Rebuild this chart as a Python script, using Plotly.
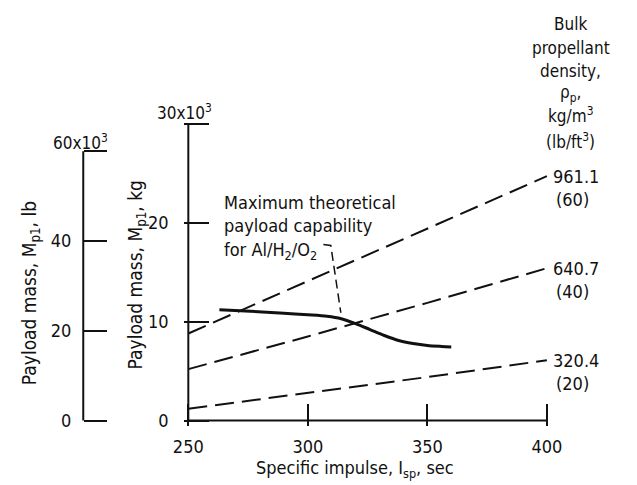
import plotly.graph_objects as go

# ---------------- data ----------------
isp_ticks = [250, 300, 350, 400]
kg_ticks = [0, 10, 20, 30]
lb_ticks = [0, 20, 40, 60]
KG_TO_LB = 2.20462

isp_dens = [250, 300, 350, 400]
kg_961 = [8.8, 14.1, 19.4, 24.7]
kg_640 = [5.2, 8.5, 11.9, 15.4]
kg_320 = [1.2, 2.8, 4.4, 6.1]
dens_kg_labels = ["961.1", "640.7", "320.4"]
dens_lb_labels = ["(60)", "(40)", "(20)"]

isp_max = [263, 276, 290, 300, 308, 314, 320, 326, 332, 338, 344, 350, 356, 360]
kg_max = [11.2, 11.05, 10.85, 10.7, 10.55, 10.3, 9.8, 9.2, 8.6, 8.1, 7.8, 7.6, 7.5, 7.45]

isp_leader = [306.5, 309.6, 313.8]
kg_leader = [17.8, 17.7, 10.9]

header_lines = ["Bulk", "propellant", "density,", "ρ<sub>p</sub>,",
                "kg/m<sup>3</sup>", "(lb/ft<sup>3</sup>)"]

# ---------------- styling ----------------
W, H = 637, 485
FONT = "DejaVu Sans Condensed, Liberation Sans Narrow, Arial Narrow, sans-serif"
BLACK = "#111111"
X_RANGE = [248, 401]
Y_RANGE = [-0.5, 30.3]


def px(x):
    return x / W


def py(y):
    return 1 - y / H


fig = go.Figure()

# axis spines (kg axis and Isp axis), drawn in data space
fig.add_trace(go.Scatter(x=[isp_ticks[0], isp_ticks[0], isp_ticks[-1]],
                         y=[kg_ticks[-1], kg_ticks[0], kg_ticks[0]], mode="lines",
                         line=dict(color=BLACK, width=2), hoverinfo="skip",
                         showlegend=False))
# lb axis carrier
fig.add_trace(go.Scatter(x=[None], y=[None], xaxis="x", yaxis="y2",
                         showlegend=False, hoverinfo="skip"))

dash_main = "19px,8px"
for ys, name in zip([kg_961, kg_640, kg_320], dens_kg_labels):
    fig.add_trace(go.Scatter(x=isp_dens, y=ys, mode="lines", name=name,
                             line=dict(color=BLACK, width=2, dash=dash_main),
                             xaxis="x", yaxis="y", showlegend=False))

fig.add_trace(go.Scatter(x=isp_max, y=kg_max, mode="lines",
                         line=dict(color=BLACK, width=3, shape="spline", smoothing=0.8),
                         xaxis="x", yaxis="y", showlegend=False))

fig.add_trace(go.Scatter(x=isp_leader, y=kg_leader, mode="lines",
                         line=dict(color=BLACK, width=1.5, dash="9px,5px"),
                         xaxis="x", yaxis="y", showlegend=False))

annotations = []
ends = [kg_961[-1], kg_640[-1], kg_320[-1]]
for lab_kg, lab_lb, yv in zip(dens_kg_labels, dens_lb_labels, ends):
    annotations.append(dict(x=isp_dens[-1], y=yv, xref="x", yref="y", text=lab_kg,
                            xanchor="left", yanchor="middle", xshift=4, showarrow=False,
                            font=dict(size=18)))
    annotations.append(dict(x=isp_dens[-1], y=yv, xref="x", yref="y", text=lab_lb,
                            xanchor="left", yanchor="middle", xshift=7, yshift=-23,
                            showarrow=False, font=dict(size=18)))

header_y = [24, 49, 72, 94, 116, 142]
for t, yy in zip(header_lines, header_y):
    annotations.append(dict(x=px(582), y=py(yy), xref="paper", yref="paper", text=t,
                            xanchor="center", yanchor="middle", showarrow=False,
                            font=dict(size=17)))

annotations += [
    dict(x=px(220), y=py(192), xref="paper", yref="paper",
         text="Maximum theoretical<br>payload capability<br>for Al/H<sub>2</sub>/O<sub>2</sub>",
         xanchor="left", yanchor="top", showarrow=False, align="left",
         font=dict(size=18)),
    dict(x=px(181), y=py(113), xref="paper", yref="paper", text="30x10<sup>3</sup>",
         xanchor="center", yanchor="middle", showarrow=False, font=dict(size=17)),
    dict(x=px(73), y=py(143), xref="paper", yref="paper", text="60x10<sup>3</sup>",
         xanchor="center", yanchor="middle", showarrow=False, font=dict(size=17)),
    dict(x=px(22), y=py(296), xref="paper", yref="paper",
         text="Payload mass, M<sub>p1</sub>, lb", textangle=-90,
         xanchor="center", yanchor="middle", showarrow=False, font=dict(size=19)),
    dict(x=px(131), y=py(278), xref="paper", yref="paper",
         text="Payload mass, M<sub>p1</sub>, kg", textangle=-90,
         xanchor="center", yanchor="middle", showarrow=False, font=dict(size=19)),
    dict(x=px(358), y=py(474), xref="paper", yref="paper",
         text="Specific impulse, I<sub>sp</sub>, sec",
         xanchor="center", yanchor="middle", showarrow=False, font=dict(size=18)),
]

shapes = [
    # lb axis spine, 0 .. 60 x10^3 lb
    dict(type="line", xref="paper", yref="y2", x0=px(76), x1=px(76),
         y0=lb_ticks[0], y1=lb_ticks[-1], line=dict(color=BLACK, width=2)),
]

axis_common = dict(showgrid=False, zeroline=False, showline=False, linecolor=BLACK,
                   linewidth=2, ticks="inside", tickcolor=BLACK, tickwidth=2,
                   tickfont=dict(size=18, color=BLACK), fixedrange=True)

# pixel scale: 2.48 px per sec of Isp (250 -> 185 px), 10 px per 10^3 kg (0 -> 425 px)
x_dom = [185 + (X_RANGE[0] - 250) * 2.48, 185 + (X_RANGE[1] - 250) * 2.48]
y_dom = [425 - (Y_RANGE[0]) * 10.0, 425 - (Y_RANGE[1]) * 10.0]

fig.update_layout(
    width=W, height=H,
    margin=dict(l=0, r=0, t=0, b=0),
    paper_bgcolor="white", plot_bgcolor="rgba(0,0,0,0)",
    font=dict(family=FONT, color=BLACK, size=18),
    showlegend=False,
    xaxis=dict(domain=[px(x_dom[0]), px(x_dom[1])], range=X_RANGE, tickvals=isp_ticks,
               ticktext=[str(v) for v in isp_ticks], ticklen=22,
               ticklabelstandoff=8, anchor="y", **axis_common),
    yaxis=dict(domain=[py(y_dom[0]), py(y_dom[1])], range=Y_RANGE, tickvals=kg_ticks,
               ticktext=["0", "10", "20", ""], ticklen=25, anchor="x",
               ticklabelstandoff=14, **axis_common),
    yaxis2=dict(overlaying="y", range=[v * KG_TO_LB for v in Y_RANGE], tickvals=lb_ticks,
                ticktext=["0", "20", "40", ""], ticklen=23, anchor="free",
                side="left", position=px(76),
                ticklabelstandoff=12, **axis_common),
    annotations=annotations,
    shapes=shapes,
)

fig.write_html("out.html")
